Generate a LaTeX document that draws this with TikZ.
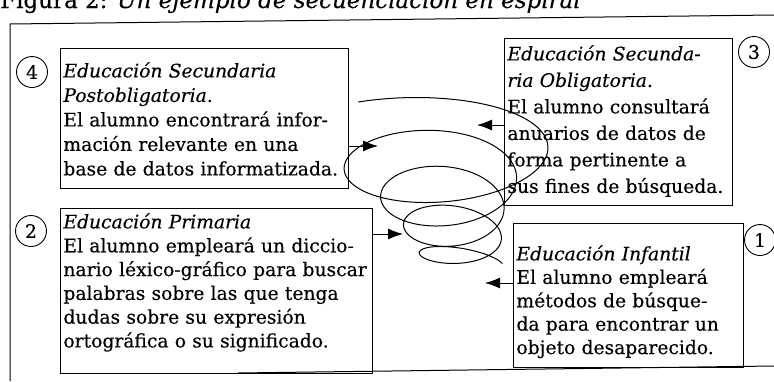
\documentclass[tikz,border=0pt]{standalone}
\usepackage{fontspec}
\setmainfont{DejaVu Serif}[FakeBold=0.3]
\usetikzlibrary{arrows.meta}

\begin{document}
\begin{tikzpicture}[x=1pt,y=-1pt]

\tikzset{stage/.style = {draw, line width=0.9pt, anchor=north west, align=left, inner sep=3pt, font=\fontsize{18.7}{24.5}\selectfont}}
\tikzset{num/.style = {shape=circle, draw, line width=0.9pt, minimum size=31pt, inner sep=0pt, font=\fontsize{18.7}{20}\selectfont}}
\tikzset{pointer/.style = {-{Latex[length=15pt,width=11pt]}, line width=0.9pt}}

\useasboundingbox (0,0) rectangle (774,381);

% title and frame
\node[anchor=base west, inner sep=0pt, font=\fontsize{23}{26}\selectfont] (title) at (0,8) {Figura 2: \textit{Un ejemplo de secuenciación en espiral}};
\draw[line width=1pt] (774,15) -- (10,24) -- (10,381);
\draw[line width=1pt] (238,373) -- (774,366);

% stages
\node[stage, text width=282pt, text height=26pt, text depth=108pt] (b4) at (60,48)
  {\textit{Educación Secundaria}\\ \textit{Postobligatoria.}\\ El alumno encontrará infor-\\ mación relevante en una\\ base de datos informatizada.};
\node[stage, text width=222pt, text height=19pt, text depth=142pt, font=\fontsize{18.7}{26.5}\selectfont] (b3) at (504,38)
  {\textit{Educación Secunda-}\\ \textit{ria Obligatoria.}\\ El alumno consultará\\ anuarios de datos de\\ forma pertinente a\\ sus fines de búsqueda.};
\node[stage, text width=306pt, text height=17pt, text depth=142pt, font=\fontsize{18.7}{23.8}\selectfont] (b2) at (60,208)
  {\textit{Educación Primaria}\\ El alumno empleará un diccio-\\ nario léxico-gráfico para buscar\\ palabras sobre las que tenga\\ dudas sobre su expresión\\ ortográfica o su significado.};
\node[stage, text width=224pt, text height=34pt, text depth=104pt, font=\fontsize{18.7}{23.4}\selectfont] (b1) at (513,223)
  {\textit{Educación Infantil}\\ El alumno empleará\\ métodos de búsque-\\ da para encontrar un\\ objeto desaparecido.};

% numbers
\node[num] (n4) at (32,72) {4};
\node[num] (n3) at (754,52) {3};
\node[num] (n2) at (31,231) {2};
\node[num] (n1) at (760,240) {1};

% spiral
\draw[line width=1pt] plot[domain=0:4.3, samples=400, variable=\u]
  ({430+8*\u+(33+82*exp(-0.65*(\u-0.34)))*cos(238+360*\u)}, {141+29*\u+(46-2*\u-1.6*\u*\u)*sin(238+360*\u)});

%pointers
\coordinate (t4) at (378,146);
\coordinate (t3) at (477,125);
\coordinate (t2) at (403,234);
\coordinate (t1) at (485,283);
\draw[pointer] (b4.east |- t4) -- (t4);
\draw[pointer] (b3.west |- t3) -- (t3);
\draw[pointer] (b2.east |- t2) -- (t2);
\draw[pointer] (b1.west |- t1) -- (t1);

\end{tikzpicture}
\end{document}
